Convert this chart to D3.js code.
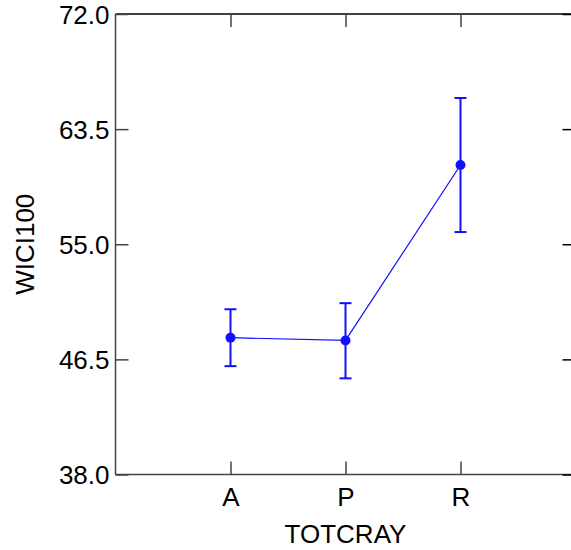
<!DOCTYPE html>
<html>
<head>
<meta charset="utf-8">
<script src="https://cdn.jsdelivr.net/npm/d3@7"></script>
<style>
  html, body { margin: 0; padding: 0; background: #fff; }
  svg text { font-family: "Liberation Sans", Arial, sans-serif; fill: #000; }
</style>
</head>
<body>
<svg id="chart" width="571" height="550"></svg>
<script>
const categories = ["A", "P", "R"];
const means = [48.1, 47.9, 60.85];
const upper = [50.2, 50.65, 65.8];
const lower = [46.0, 45.1, 55.9];
const yTicks = [38.0, 46.5, 55.0, 63.5, 72.0];
const xLabel = "TOTCRAY";
const yLabel = "WICI100";

const svg = d3.select("#chart");
const pLeft = 115.5, pRight = 575.5, pTop = 14, pBottom = 474.5;
const x = d3.scaleLinear().domain([0, categories.length + 1]).range([pLeft, pRight]);
const y = d3.scaleLinear().domain([38, 72]).range([pBottom, pTop]);
const tickLen = 13;
const fontSize = 26;

// frame
const axisColor = "#444";
svg.append("line").attr("x1", pLeft).attr("x2", pLeft).attr("y1", pTop).attr("y2", pBottom)
  .attr("stroke", axisColor).attr("stroke-width", 1.5);
svg.append("line").attr("x1", pLeft).attr("x2", pRight).attr("y1", pBottom).attr("y2", pBottom)
  .attr("stroke", axisColor).attr("stroke-width", 1.5);
svg.append("line").attr("x1", pLeft).attr("x2", pRight).attr("y1", pTop).attr("y2", pTop)
  .attr("stroke", "#000").attr("stroke-width", 1.5);
svg.append("line").attr("x1", pRight).attr("x2", pRight).attr("y1", pTop).attr("y2", pBottom)
  .attr("stroke", "#000").attr("stroke-width", 1.5);

// y axis (left) with inward ticks
const yAxisL = d3.axisLeft(y).tickValues(yTicks).tickFormat(d3.format(".1f")).tickSize(-tickLen).tickPadding(6);
const gyl = svg.append("g").attr("transform", `translate(${pLeft},0)`).call(yAxisL);
gyl.select(".domain").remove();
gyl.selectAll("line").attr("stroke", axisColor).attr("stroke-width", 1.5);
gyl.selectAll("text").attr("font-size", fontSize).attr("font-family", "Liberation Sans, Arial, sans-serif").attr("fill", "#000").attr("dy", "0.36em");

// right ticks
const yAxisR = d3.axisRight(y).tickValues(yTicks).tickFormat("").tickSize(-tickLen);
const gyr = svg.append("g").attr("transform", `translate(${pRight},0)`).call(yAxisR);
gyr.select(".domain").remove();
gyr.selectAll("line").attr("stroke", "#000").attr("stroke-width", 1.5);

// x axis bottom
const xTickVals = categories.map((c, i) => i + 1);
const xAxisB = d3.axisBottom(x).tickValues(xTickVals).tickFormat((d) => categories[d - 1]).tickSize(-tickLen).tickPadding(13);
const gxb = svg.append("g").attr("transform", `translate(0,${pBottom})`).call(xAxisB);
gxb.select(".domain").remove();
gxb.selectAll("line").attr("stroke", axisColor).attr("stroke-width", 1.5);
gxb.selectAll("text").attr("font-size", fontSize).attr("font-family", "Liberation Sans, Arial, sans-serif").attr("fill", "#000");

// x axis top ticks
const xAxisT = d3.axisTop(x).tickValues(xTickVals).tickFormat("").tickSize(-tickLen);
const gxt = svg.append("g").attr("transform", `translate(0,${pTop})`).call(xAxisT);
gxt.select(".domain").remove();
gxt.selectAll("line").attr("stroke", axisColor).attr("stroke-width", 1.5);

// axis titles
svg.append("text").attr("x", x(2)).attr("y", 542.5)
  .attr("text-anchor", "middle").attr("font-size", fontSize).text(xLabel);
svg.append("text").attr("transform", `translate(34,${(pTop + pBottom) / 2}) rotate(-90)`)
  .attr("text-anchor", "middle").attr("font-size", fontSize).text(yLabel);

// data
const blue = "#1010ff";
const data = categories.map((c, i) => ({ c, xv: i + 1, m: means[i], hi: upper[i], lo: lower[i] }));
const line = d3.line().x((d) => x(d.xv)).y((d) => y(d.m));
svg.append("path").datum(data).attr("d", line).attr("fill", "none").attr("stroke", blue).attr("stroke-width", 1.2);

const cap = 6;
const eb = svg.append("g").selectAll("g").data(data).join("g");
eb.append("line").attr("x1", (d) => x(d.xv)).attr("x2", (d) => x(d.xv))
  .attr("y1", (d) => y(d.hi)).attr("y2", (d) => y(d.lo)).attr("stroke", blue).attr("stroke-width", 2);
eb.append("line").attr("x1", (d) => x(d.xv) - cap).attr("x2", (d) => x(d.xv) + cap)
  .attr("y1", (d) => y(d.hi)).attr("y2", (d) => y(d.hi)).attr("stroke", blue).attr("stroke-width", 2);
eb.append("line").attr("x1", (d) => x(d.xv) - cap).attr("x2", (d) => x(d.xv) + cap)
  .attr("y1", (d) => y(d.lo)).attr("y2", (d) => y(d.lo)).attr("stroke", blue).attr("stroke-width", 2);
eb.append("circle").attr("cx", (d) => x(d.xv)).attr("cy", (d) => y(d.m)).attr("r", 5).attr("fill", blue);
</script>
</body>
</html>
